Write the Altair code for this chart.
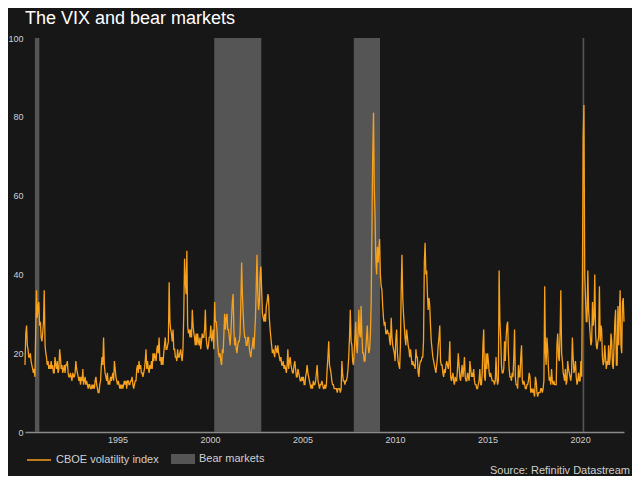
import altair as alt
import pandas as pd

title_text = "The VIX and bear markets"
source_text = "Source: Refinitiv Datastream"
line_label = "CBOE volatility index"
bear_label = "Bear markets"

# VIX readings, two per month (first half, second half of each month)
vix_1990 = [17, 25, 27, 22, 21, 19, 19, 20, 18, 17, 16, 15, 16, 14, 26, 36, 29, 32, 33, 27, 28, 24, 23, 25]
vix_1991 = [28, 36, 22, 20, 19, 17, 18, 16, 17, 16, 18, 16, 17, 15, 15, 19, 17, 16, 18, 15, 16, 21, 19, 16]
vix_1992 = [17, 15, 16, 17, 15, 17, 17, 18, 15, 14, 14, 15, 14, 13, 15, 14, 14, 15, 18, 16, 15, 14, 13, 14]
vix_1993 = [12, 14, 13, 16, 12, 13, 14, 12, 13, 12, 11, 12, 12, 11, 11, 12, 11, 12, 11, 13, 14, 12, 11, 10]
vix_1994 = [10, 12, 13, 17, 19, 17, 24, 17, 15, 14, 13, 15, 12, 13, 12, 14, 13, 14, 15, 13, 18, 16, 14, 13]
vix_1995 = [12, 13, 12, 11, 12, 11, 12, 11, 12, 13, 12, 13, 11, 13, 13, 12, 12, 13, 13, 14, 12, 11, 12, 13]
vix_1996 = [13, 16, 17, 15, 18, 16, 17, 15, 15, 14, 15, 16, 18, 21, 16, 18, 16, 15, 17, 16, 18, 16, 20, 18]
vix_1997 = [20, 19, 18, 21, 22, 20, 24, 18, 19, 17, 19, 17, 20, 22, 24, 21, 21, 22, 23, 38, 28, 26, 25, 23]
vix_1998 = [26, 21, 21, 19, 19, 18, 21, 19, 19, 20, 21, 19, 18, 21, 30, 44, 38, 35, 46, 27, 25, 26, 24, 26]
vix_1999 = [24, 31, 27, 25, 24, 22, 25, 22, 25, 23, 22, 24, 21, 23, 25, 24, 24, 26, 31, 24, 22, 21, 22, 24]
vix_2000 = [24, 27, 23, 24, 26, 21, 33, 28, 28, 26, 22, 20, 19, 20, 18, 17, 21, 20, 25, 30, 26, 29, 30, 26]
vix_2001 = [26, 24, 22, 25, 29, 33, 35, 26, 22, 24, 21, 20, 22, 23, 23, 25, 33, 43, 35, 30, 26, 24, 24, 22]
vix_2002 = [22, 24, 24, 21, 20, 19, 21, 22, 24, 21, 25, 29, 37, 45, 35, 31, 33, 40, 42, 36, 30, 29, 28, 30]
vix_2003 = [28, 32, 33, 35, 34, 29, 26, 24, 22, 20, 21, 20, 19, 22, 21, 20, 22, 20, 19, 18, 19, 17, 17, 18]
vix_2004 = [16, 17, 16, 15, 17, 21, 16, 18, 19, 17, 16, 15, 15, 17, 18, 16, 14, 14, 16, 15, 14, 13, 13, 14]
vix_2005 = [13, 14, 12, 12, 14, 15, 17, 15, 14, 13, 12, 11, 12, 11, 13, 12, 12, 13, 15, 17, 13, 12, 11, 12]
vix_2006 = [12, 13, 12, 11, 11, 12, 11, 12, 16, 19, 23, 17, 16, 15, 13, 12, 12, 11, 11, 11, 11, 10, 11, 11]
vix_2007 = [11, 10, 11, 18, 15, 13, 13, 12, 13, 13, 14, 16, 19, 24, 31, 23, 22, 18, 17, 20, 24, 28, 22, 20]
vix_2008 = [25, 31, 25, 24, 32, 25, 20, 20, 18, 18, 21, 24, 27, 22, 20, 21, 25, 33, 52, 70, 81, 62, 55, 44]
vix_2009 = [40, 47, 43, 47, 49, 40, 37, 36, 32, 29, 27, 28, 25, 25, 26, 25, 25, 23, 22, 29, 24, 22, 21, 20]
vix_2010 = [18, 24, 26, 20, 18, 17, 16, 22, 36, 45, 34, 30, 27, 24, 22, 26, 24, 22, 21, 19, 21, 19, 17, 18]
vix_2011 = [17, 17, 16, 21, 19, 19, 15, 14, 17, 18, 18, 19, 19, 23, 43, 48, 40, 41, 35, 31, 34, 32, 27, 23]
vix_2012 = [21, 19, 18, 17, 16, 15, 17, 19, 22, 24, 27, 18, 17, 17, 15, 14, 16, 15, 17, 18, 17, 16, 18, 23]
vix_2013 = [14, 13, 14, 15, 13, 12, 14, 13, 13, 16, 20, 17, 14, 13, 15, 17, 14, 16, 19, 14, 13, 13, 15, 14]
vix_2014 = [13, 18, 16, 14, 15, 14, 16, 13, 12, 12, 11, 11, 12, 13, 16, 12, 12, 15, 22, 26, 14, 13, 20, 16]
vix_2015 = [20, 18, 15, 14, 15, 14, 13, 13, 13, 12, 13, 19, 14, 12, 13, 41, 28, 24, 17, 15, 15, 16, 23, 18]
vix_2016 = [24, 27, 28, 20, 16, 14, 14, 13, 15, 14, 19, 26, 14, 12, 12, 11, 17, 14, 14, 19, 22, 13, 12, 13]
vix_2017 = [12, 11, 11, 12, 12, 13, 15, 14, 10, 11, 10, 11, 10, 9, 14, 13, 10, 9, 10, 10, 10, 11, 11, 10]
vix_2018 = [11, 13, 37, 20, 17, 24, 21, 16, 13, 14, 12, 16, 13, 12, 13, 12, 12, 12, 22, 25, 19, 18, 25, 36]
vix_2019 = [20, 18, 15, 14, 13, 16, 12, 13, 18, 16, 15, 14, 13, 15, 24, 19, 15, 16, 18, 14, 12, 13, 15, 13]
vix_2020 = [13, 18, 14, 40, 75, 83, 40, 34, 28, 28, 41, 31, 28, 25, 22, 23, 33, 27, 29, 40, 25, 22, 21, 23]
vix_2021 = [24, 37, 23, 27, 26, 19, 17, 18, 22, 19, 16, 18, 17, 22, 17, 19, 25, 23, 17, 16, 22, 28, 31, 17]
vix_2022 = [17, 32, 22, 31, 36, 22, 20, 33, 34, 28]

years = list(range(1990, 2023))
series = [vix_1990, vix_1991, vix_1992, vix_1993, vix_1994, vix_1995, vix_1996,
          vix_1997, vix_1998, vix_1999, vix_2000, vix_2001, vix_2002, vix_2003,
          vix_2004, vix_2005, vix_2006, vix_2007, vix_2008, vix_2009, vix_2010,
          vix_2011, vix_2012, vix_2013, vix_2014, vix_2015, vix_2016, vix_2017,
          vix_2018, vix_2019, vix_2020, vix_2021, vix_2022]

bear_start = ["1990-07-16", "2000-03-24", "2007-10-09", "2020-02-19"]
bear_end = ["1990-10-11", "2002-10-09", "2009-03-09", "2020-03-23"]

y_ticks = [0, 20, 40, 60, 80, 100]
x_tick_years = [1995, 2000, 2005, 2010, 2015, 2020]

dates, vals = [], []
for yr, arr in zip(years, series):
    for i, v in enumerate(arr):
        dates.append(pd.Timestamp(year=yr, month=i // 2 + 1, day=1 if i % 2 == 0 else 16))
        vals.append(v)

vix_df = pd.DataFrame({"date": dates, "vix": vals, "series": line_label})
bear_df = pd.DataFrame({
    "start": pd.to_datetime(bear_start),
    "end": pd.to_datetime(bear_end),
    "kind": bear_label,
    "lo": 0,
    "hi": 100,
})
src_df = pd.DataFrame({"t": [source_text]})

FONT = "Liberation Sans"
BG = "#171717"
LINE = "#f7a11c"
BEAR = "#555555"
TXT = "#d0d0d0"

d0, d1 = dates[0], dates[-1]
x_scale = alt.Scale(domain=[alt.DateTime(year=d0.year, month=d0.month, date=d0.day),
                            alt.DateTime(year=d1.year, month=d1.month, date=d1.day)])
y_scale = alt.Scale(domain=[0, 100])

x_axis = alt.Axis(values=[alt.DateTime(year=y, month=1, date=1) for y in x_tick_years],
                  format="%Y", title=None, ticks=False, grid=False,
                  domainColor="#8a8a8a", domainWidth=1.5, labelPadding=3,
                  labelFontSize=9, labelColor=TXT, labelFont=FONT)
y_axis = alt.Axis(values=y_ticks, title=None, domain=False, ticks=False, grid=False,
                  labelPadding=2, labelFontSize=9, labelColor=TXT, labelFont=FONT)

bears = alt.Chart(bear_df).mark_rect().encode(
    x=alt.X("start:T", scale=x_scale, axis=x_axis),
    x2="end:T",
    y=alt.Y("hi:Q", scale=y_scale, axis=y_axis),
    y2="lo:Q",
    fill=alt.Fill("kind:N", scale=alt.Scale(domain=[bear_label], range=[BEAR]),
                  legend=alt.Legend(title=None, orient="none", legendX=146, legendY=409,
                                    symbolType="M-1,-0.42H1V0.42H-1Z", symbolSize=576,
                                    symbolStrokeWidth=0, symbolOpacity=1,
                                    labelColor=TXT, labelFontSize=11, labelFont=FONT,
                                    labelOffset=4)),
)

line = alt.Chart(vix_df).mark_line(strokeWidth=1.3).encode(
    x=alt.X("date:T", scale=x_scale, axis=x_axis),
    y=alt.Y("vix:Q", scale=y_scale, axis=y_axis),
    stroke=alt.Stroke("series:N", scale=alt.Scale(domain=[line_label], range=[LINE]),
                      legend=alt.Legend(title=None, orient="none", legendX=1, legendY=409,
                                        symbolType="stroke", symbolSize=576,
                                        symbolStrokeWidth=1.5,
                                        labelColor=TXT, labelFontSize=11, labelFont=FONT,
                                        labelOffset=4)),
)

source = alt.Chart(src_df).mark_text(align="right", baseline="middle", fontSize=11,
                                     font=FONT, color=TXT).encode(
    text="t:N", x=alt.value(605), y=alt.value(433)
)

chart = alt.layer(bears, line, source).properties(
    width=599, height=394,
    background=BG,
    autosize=alt.AutoSizeParams(type="none"),
    padding={"left": 17, "top": 30, "right": 8, "bottom": 44},
    title=alt.Title(title_text, anchor="start", frame="group", fontSize=18, font=FONT,
                    fontWeight="normal", color="#ffffff", offset=6),
).configure_view(stroke=None)

chart.save("out.html", embed_options={"renderer": "svg", "actions": False})
